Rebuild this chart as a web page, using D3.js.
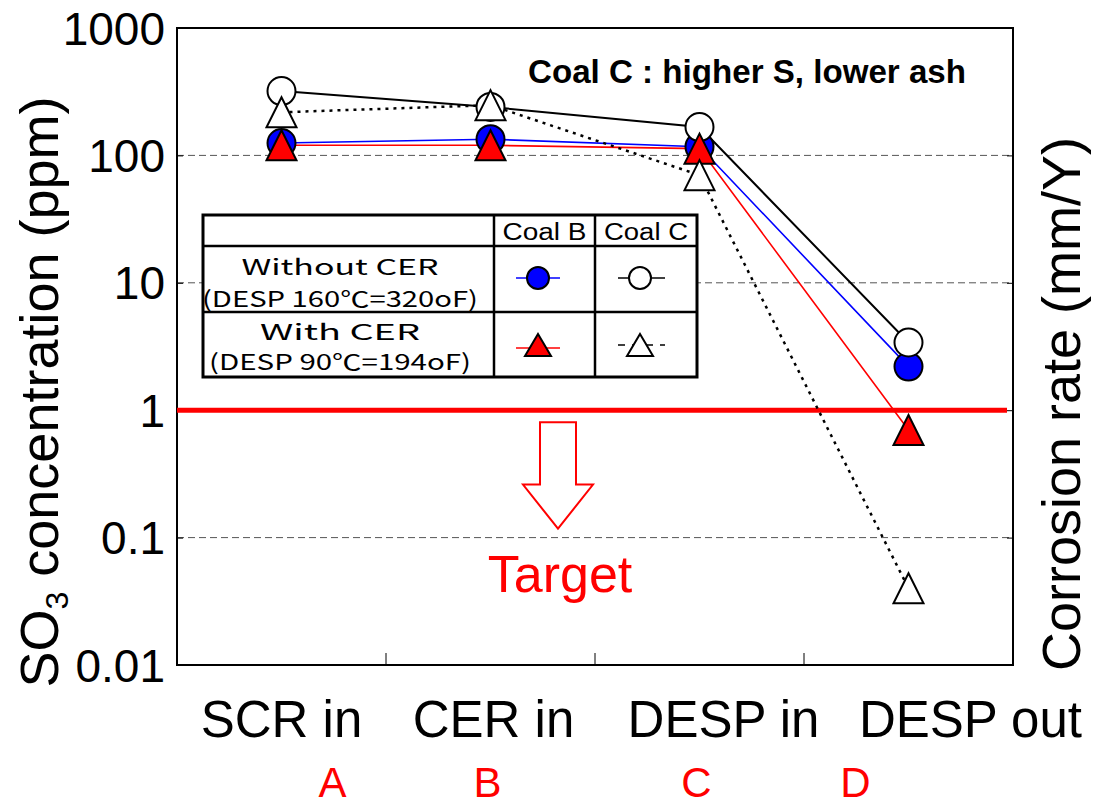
<!DOCTYPE html>
<html>
<head>
<meta charset="utf-8">
<script src="https://cdn.jsdelivr.net/npm/d3@7"></script>
<style>
  body { margin: 0; background: #fff; }
  text { font-family: "Liberation Sans", Arial, sans-serif; }
</style>
</head>
<body>
<div id="chart"></div>
<script>
// categories along the flue-gas path
const stations = ['SCR in', 'CER in', 'DESP in', 'DESP out'];
const stationLetters = ['A', 'B', 'C', 'D'];
const yTicks = [0.01, 0.1, 1, 10, 100, 1000];
const yTickLabels = ['0.01', '0.1', '1', '10', '100', '1000'];

// SO3 concentration (ppm)
const coalBWithout = [125, 134, 117, 2.2];
const coalCWithout = [320, 240, 167, 3.4];
const coalBWith = [120, 120, 113, 0.70];
const coalCWith = [218, 248, 70, 0.04];
const targetLevel = 1;

const W = 1093, H = 809;
const margin = { top: 28, right: 80, bottom: 144, left: 177 };

const svg = d3.select('#chart')
  .append('svg')
  .attr('width', W)
  .attr('height', H)
  .style('display', 'block');

const x = d3.scaleBand()
  .domain(stations)
  .range([margin.left, W - margin.right]);

const y = d3.scaleLog()
  .domain([0.01, 1000])
  .range([H - margin.bottom, margin.top]);

const cx = d => x(d) + x.bandwidth() / 2;
const pLeft = margin.left, pRight = W - margin.right;
const pTop = margin.top, pBottom = H - margin.bottom;

// dashed grid
svg.append('g')
  .selectAll('line')
  .data([0.1, 10, 100])
  .join('line')
  .attr('x1', pLeft).attr('x2', pRight)
  .attr('y1', d => y(d)).attr('y2', d => y(d))
  .attr('stroke', '#555')
  .attr('stroke-width', 1)
  .attr('stroke-dasharray', '7,4');

// left axis (ticks inward, labels outside)
const yAxisLeft = d3.axisRight(y)
  .tickValues(yTicks)
  .tickSize(6)
  .tickFormat('');
svg.append('g')
  .attr('transform', `translate(${pLeft},0)`)
  .call(yAxisLeft)
  .call(g => g.select('.domain').remove())
  .selectAll('line').attr('stroke', '#000');

svg.append('g')
  .selectAll('text')
  .data(yTicks)
  .join('text')
  .attr('x', pLeft - 12)
  .attr('y', d => y(d))
  .attr('dy', '0.36em')
  .attr('text-anchor', 'end')
  .attr('font-size', 46)
  .text((d, i) => yTickLabels[i]);

// right axis
const yAxisRight = d3.axisLeft(y)
  .tickValues([0.1, 1, 10, 100])
  .tickSize(6)
  .tickFormat('');
svg.append('g')
  .attr('transform', `translate(${pRight},0)`)
  .call(yAxisRight)
  .call(g => g.select('.domain').remove())
  .selectAll('line').attr('stroke', '#000');

// bottom ticks on band boundaries, pointing up
svg.append('g')
  .selectAll('line')
  .data(stations.slice(1))
  .join('line')
  .attr('x1', d => x(d)).attr('x2', d => x(d))
  .attr('y1', pBottom).attr('y2', pBottom - 12)
  .attr('stroke', '#000')
  .attr('stroke-width', 1);

// frame
svg.append('rect')
  .attr('x', pLeft).attr('y', pTop)
  .attr('width', pRight - pLeft).attr('height', pBottom - pTop)
  .attr('fill', 'none')
  .attr('stroke', '#000')
  .attr('stroke-width', 2);

// target line at 1 ppm
svg.append('line')
  .attr('x1', pLeft).attr('x2', pRight - 6)
  .attr('y1', y(targetLevel)).attr('y2', y(targetLevel))
  .attr('stroke', '#ff0000')
  .attr('stroke-width', 5);

// arrow + "Target"
const arrowX = 558;
const aTop = y(targetLevel) + 12, aTip = y(0.1) - 9;
const aNeck = aTip - 44;
svg.append('path')
  .attr('d', `M${arrowX - 18},${aTop} H${arrowX + 18} V${aNeck} H${arrowX + 35}
    L${arrowX},${aTip} L${arrowX - 35},${aNeck} H${arrowX - 18} Z`)
  .attr('fill', '#fff')
  .attr('stroke', '#ff0000')
  .attr('stroke-width', 2);

svg.append('text')
  .attr('x', 560)
  .attr('y', 592)
  .attr('text-anchor', 'middle')
  .attr('font-size', 52)
  .attr('fill', '#ff0000')
  .text('Target');

// series lines
const line = d3.line()
  .x((d, i) => cx(stations[i]))
  .y(d => y(d));

const series = [
  { values: coalBWithout, stroke: '#0000ff', dash: null, width: 1.6 },
  { values: coalBWith, stroke: '#ff0000', dash: null, width: 1.6 },
  { values: coalCWithout, stroke: '#000', dash: null, width: 2 },
  { values: coalCWith, stroke: '#000', dash: '3,5', width: 2.5 }
];

svg.append('g')
  .selectAll('path')
  .data(series)
  .join('path')
  .attr('d', d => line(d.values))
  .attr('fill', 'none')
  .attr('stroke', d => d.stroke)
  .attr('stroke-width', d => d.width)
  .attr('stroke-dasharray', d => d.dash);

const triPath = (px, py, hw, hh) =>
  `M${px},${py - hh} L${px + hw},${py + hh} L${px - hw},${py + hh} Z`;

function circles(values, fill) {
  svg.append('g')
    .selectAll('circle')
    .data(values)
    .join('circle')
    .attr('cx', (d, i) => cx(stations[i]))
    .attr('cy', d => y(d))
    .attr('r', 14)
    .attr('fill', fill)
    .attr('stroke', '#000')
    .attr('stroke-width', 2);
}

function triangles(values, fill) {
  svg.append('g')
    .selectAll('path')
    .data(values)
    .join('path')
    .attr('d', (d, i) => triPath(cx(stations[i]), y(d), 15, 15))
    .attr('fill', fill)
    .attr('stroke', '#000')
    .attr('stroke-width', 2);
}

circles(coalBWithout, '#0000ff');
circles(coalCWithout, '#fff');
triangles(coalBWith, '#ff0000');
triangles(coalCWith, '#fff');

// note
svg.append('text')
  .attr('x', 528)
  .attr('y', 83)
  .attr('font-size', 34)
  .attr('font-weight', 'bold')
  .attr('textLength', 438)
  .attr('lengthAdjust', 'spacingAndGlyphs')
  .text('Coal C : higher S, lower ash');

// legend table
const lg = { x0: 203, x1: 494, x2: 595, x3: 697, y0: 215, y1: 246, y2: 312, y3: 377 };
const leg = svg.append('g');
leg.append('rect')
  .attr('x', lg.x0).attr('y', lg.y0)
  .attr('width', lg.x3 - lg.x0).attr('height', lg.y3 - lg.y0)
  .attr('fill', '#fff')
  .attr('stroke', '#000')
  .attr('stroke-width', 3);
[[lg.x0, lg.y1, lg.x3, lg.y1], [lg.x0, lg.y2, lg.x3, lg.y2],
 [lg.x1, lg.y0, lg.x1, lg.y3], [lg.x2, lg.y0, lg.x2, lg.y3]].forEach(l => {
  leg.append('line')
    .attr('x1', l[0]).attr('y1', l[1]).attr('x2', l[2]).attr('y2', l[3])
    .attr('stroke', '#000').attr('stroke-width', 2.5);
});

leg.selectAll('text.hd')
  .data(['Coal B', 'Coal C'])
  .join('text')
  .attr('class', 'hd')
  .attr('x', (d, i) => i === 0 ? (lg.x1 + lg.x2) / 2 : (lg.x2 + lg.x3) / 2)
  .attr('y', 240)
  .attr('text-anchor', 'middle')
  .attr('font-size', 23)
  .attr('textLength', 84)
  .attr('lengthAdjust', 'spacingAndGlyphs')
  .text(d => d);

const rowText = [
  ['Without CER', 275, 197],
  ['(DESP 160℃=320oF)', 307, 276],
  ['With CER', 340, 160],
  ['(DESP 90℃=194oF)', 370, 262]
];
leg.selectAll('text.rw')
  .data(rowText)
  .join('text')
  .attr('class', 'rw')
  .attr('x', 340)
  .attr('y', d => d[1])
  .attr('text-anchor', 'middle')
  .attr('font-size', 22)
  .style('font-family', '"Noto Sans CJK JP", "Liberation Sans", sans-serif')
  .attr('textLength', d => d[2])
  .attr('lengthAdjust', 'spacingAndGlyphs')
  .text(d => d[0]);

const sx1 = 538, sx2 = 640, sy1 = 278, sy2 = 345;
leg.append('line').attr('x1', sx1 - 22).attr('x2', sx1 + 22)
  .attr('y1', sy1).attr('y2', sy1).attr('stroke', '#0000ff').attr('stroke-width', 1.6);
leg.append('circle').attr('cx', sx1).attr('cy', sy1).attr('r', 11)
  .attr('fill', '#0000ff').attr('stroke', '#000').attr('stroke-width', 2);
leg.append('line').attr('x1', sx2 - 22).attr('x2', sx2 + 25)
  .attr('y1', sy1).attr('y2', sy1).attr('stroke', '#000').attr('stroke-width', 1.6);
leg.append('circle').attr('cx', sx2).attr('cy', sy1).attr('r', 11)
  .attr('fill', '#fff').attr('stroke', '#000').attr('stroke-width', 2);
leg.append('line').attr('x1', sx1 - 22).attr('x2', sx1 + 22)
  .attr('y1', sy2 + 3).attr('y2', sy2 + 3).attr('stroke', '#ff0000').attr('stroke-width', 1.6);
leg.append('path').attr('d', triPath(sx1, sy2, 13, 11))
  .attr('fill', '#ff0000').attr('stroke', '#000').attr('stroke-width', 2);
leg.append('line').attr('x1', sx2 - 22).attr('x2', sx2 + 25)
  .attr('y1', sy2).attr('y2', sy2).attr('stroke', '#000').attr('stroke-width', 1.6)
  .attr('stroke-dasharray', '7,7');
leg.append('path').attr('d', triPath(sx2, sy2, 13, 11))
  .attr('fill', '#fff').attr('stroke', '#000').attr('stroke-width', 2);

// x labels
const labelShift = [0, 3, 24, 62];
svg.append('g')
  .selectAll('text')
  .data(stations)
  .join('text')
  .attr('x', (d, i) => cx(d) + labelShift[i])
  .attr('y', 737)
  .attr('text-anchor', 'middle')
  .attr('font-size', 51)
  .text(d => d);

const letterShift = [51, -3, -3, -53];
svg.append('g')
  .selectAll('text')
  .data(stationLetters)
  .join('text')
  .attr('x', (d, i) => cx(stations[i]) + letterShift[i])
  .attr('y', 797)
  .attr('text-anchor', 'middle')
  .attr('font-size', 42)
  .attr('fill', '#ff0000')
  .text(d => d);

// axis titles
const yTitle = svg.append('text')
  .attr('transform', `translate(58, 392) rotate(-90)`)
  .attr('text-anchor', 'middle')
  .attr('font-size', 54);
yTitle.append('tspan').text('SO');
yTitle.append('tspan').attr('font-size', 32).attr('dy', 10).text('3');
yTitle.append('tspan').attr('dy', -10).text(' concentration (ppm)');

svg.append('text')
  .attr('transform', `translate(1080, 404) rotate(-90)`)
  .attr('text-anchor', 'middle')
  .attr('font-size', 54)
  .text('Corrosion rate (mm/Y)');
</script>
</body>
</html>
